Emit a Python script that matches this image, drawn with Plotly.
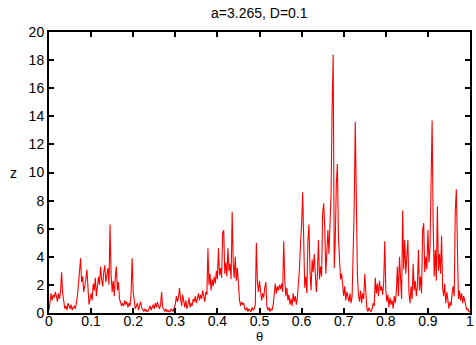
import plotly.graph_objects as go

theta_step = 0.0025
z_values = [
    0.2, 1.0, 1.4, 0.9, 1.3, 1.1, 1.5, 1.2, 0.8, 1.4,
    1.0, 1.6, 2.9, 1.4, 0.6, 0.3, 0.5, 0.2, 0.7, 0.4,
    0.3, 0.6, 0.2, 0.4, 0.5, 0.3, 0.8, 1.2, 2.1, 2.8,
    3.9, 2.2, 2.6, 1.5, 1.9, 2.4, 3.1, 1.2, 0.6, 1.0,
    1.4, 0.9, 2.1, 1.6, 2.5, 1.2, 1.8, 2.6, 2.0, 3.3,
    2.4, 1.9, 2.9, 3.4, 2.2, 2.6, 3.2, 2.0, 6.3, 2.7,
    1.5, 2.3, 1.2, 2.5, 3.3, 1.6, 2.2, 1.0, 0.8, 0.5,
    0.7, 0.5, 0.9, 0.6, 0.8, 0.4, 0.7, 0.5, 1.4, 3.9,
    1.5, 0.6, 0.3, 0.5, 0.7, 0.2, 0.6, 0.8, 0.4, 0.2,
    0.1, 0.3, 0.1, 0.2, 0.1, 0.3, 0.5, 0.2, 0.4, 0.6,
    0.3, 0.7, 0.4, 0.8, 0.5, 0.3, 0.6, 1.5, 0.4, 0.2,
    0.1, 0.3, 0.1, 0.2, 0.1, 0.1, 0.3, 0.2, 0.1, 0.4,
    0.6, 1.2, 0.8, 1.1, 1.8, 1.0, 0.5, 1.3, 0.7, 0.4,
    0.9, 0.3, 0.6, 1.1, 0.4, 0.7, 0.5, 1.0, 0.8, 1.2,
    0.7, 1.1, 1.4, 0.9, 1.3, 1.0, 1.6, 1.2, 0.8, 1.5,
    1.3, 4.6, 2.0, 2.8, 1.6, 2.4, 1.9, 2.6, 2.1, 3.0,
    2.4, 4.6, 2.7, 3.2, 2.5, 5.7, 5.9, 2.8, 3.6, 2.6,
    4.6, 3.0, 3.5, 2.4, 7.2, 3.6, 2.5, 4.0, 2.3, 3.2,
    2.0, 0.9, 0.5, 0.8, 0.6, 0.7, 0.3, 0.2, 0.4, 0.1,
    0.3, 0.2, 0.1, 0.4, 0.2, 0.3, 0.6, 5.0, 2.2, 1.5,
    2.3, 1.6, 0.9, 1.4, 1.1, 1.8, 2.2, 0.5, 0.2, 0.4,
    0.1, 0.3, 0.2, 0.6, 1.5, 2.1, 1.4, 1.9, 1.6, 2.0,
    1.7, 2.1, 1.5, 5.1, 2.4, 1.2, 1.8, 0.9, 1.3, 0.6,
    1.0, 0.5, 1.4, 0.8, 1.2, 0.6, 1.1, 2.1, 3.2, 5.0,
    6.3, 8.6, 4.2, 1.8, 2.6, 1.4, 5.2, 6.3, 2.9, 1.6,
    3.8, 2.9, 4.2, 3.1, 1.5, 2.7, 5.2, 2.4, 3.3, 2.6,
    7.1, 7.8, 6.1, 2.8, 4.9, 5.9, 4.2, 6.1, 8.5, 14.7,
    18.4, 3.2, 5.2, 9.2, 10.6, 5.4, 3.6, 2.4, 2.8, 1.8,
    1.2, 1.9, 0.9, 1.5, 1.1, 0.8, 1.4, 0.7, 1.2, 3.8,
    7.6, 13.6, 5.9, 2.8, 1.3, 0.8, 1.6, 0.7, 1.4, 1.0,
    2.8, 0.9, 0.3, 0.1, 0.4, 0.2, 0.1, 0.3, 0.7, 0.5,
    2.5, 1.4, 2.1, 1.2, 2.3, 1.6, 1.9, 1.3, 2.2, 5.1,
    1.6, 0.8, 1.3, 0.4, 1.1, 0.6, 0.9, 0.3, 1.2, 0.7,
    1.5, 3.3, 1.2, 4.0, 1.7, 1.0, 7.3, 3.1, 5.2, 2.8,
    4.1, 5.2, 1.4, 0.7, 1.9, 1.0, 3.5, 1.6, 2.3, 1.2,
    1.9, 4.5, 1.6, 2.6, 1.4, 5.9, 6.4, 2.9, 4.0, 3.1,
    5.9, 3.6, 4.7, 11.0, 13.7, 6.4, 2.6, 4.5, 2.3, 7.6,
    3.0, 4.2, 2.8, 5.5, 1.8, 1.2, 2.1, 0.7, 1.5, 0.9,
    0.3, 0.8, 0.5, 1.4, 1.9, 1.2, 7.2, 8.8, 4.2, 1.0,
    1.6, 0.9, 1.4, 0.7, 1.2, 0.8, 0.4, 0.2, 0.3, 0.1,
    0.1,
]
theta_values = [round(i * theta_step, 4) for i in range(len(z_values))]

x_ticks = [0, 0.1, 0.2, 0.3, 0.4, 0.5, 0.6, 0.7, 0.8, 0.9, 1]
x_tick_labels = ["0", "0.1", "0.2", "0.3", "0.4", "0.5", "0.6", "0.7", "0.8", "0.9", "1"]
y_ticks = [0, 2, 4, 6, 8, 10, 12, 14, 16, 18, 20]
y_tick_labels = [str(v) for v in y_ticks]

title_text = "a=3.265, D=0.1"
x_label = "θ"
y_label = "z"

FONT = "Liberation Sans, Arial, sans-serif"

fig = go.Figure()
fig.add_trace(go.Scatter(
    x=theta_values, y=z_values, mode="lines",
    line=dict(color="#ff0000", width=1.1),
    hoverinfo="skip", showlegend=False,
))

axis_common = dict(
    showline=True, linecolor="black", linewidth=2, mirror="ticks",
    ticks="inside", ticklen=5, tickwidth=1.5, tickcolor="black",
    showgrid=False, zeroline=False, ticklabeloverflow="allow",
)

fig.update_layout(
    width=476, height=345,
    margin=dict(l=49, r=2, t=32, b=32),
    paper_bgcolor="white", plot_bgcolor="white",
    xaxis=dict(range=[0, 1], tickvals=x_ticks, ticktext=x_tick_labels,
               ticklabelstandoff=-6,
               tickfont=dict(family=FONT, size=14, color="black"), **axis_common),
    yaxis=dict(range=[0, 20], tickvals=y_ticks, ticktext=y_tick_labels,
               tickfont=dict(family=FONT, size=14, color="black"), **axis_common),
    annotations=[
        dict(text=title_text, xref="paper", yref="paper", x=0.5, y=1,
             xanchor="center", yanchor="middle", yshift=19, showarrow=False,
             font=dict(family=FONT, size=14, color="black")),
        dict(text=x_label, xref="paper", yref="paper", x=0.5, y=0,
             xanchor="center", yanchor="middle", yshift=-23, showarrow=False,
             font=dict(family=FONT, size=13, color="black")),
        dict(text=y_label, xref="paper", yref="paper", x=0, y=0.5,
             xanchor="right", yanchor="middle", xshift=-30, showarrow=False,
             font=dict(family=FONT, size=14, color="black")),
    ],
)

fig.write_html("out.html", config={"displayModeBar": False})
